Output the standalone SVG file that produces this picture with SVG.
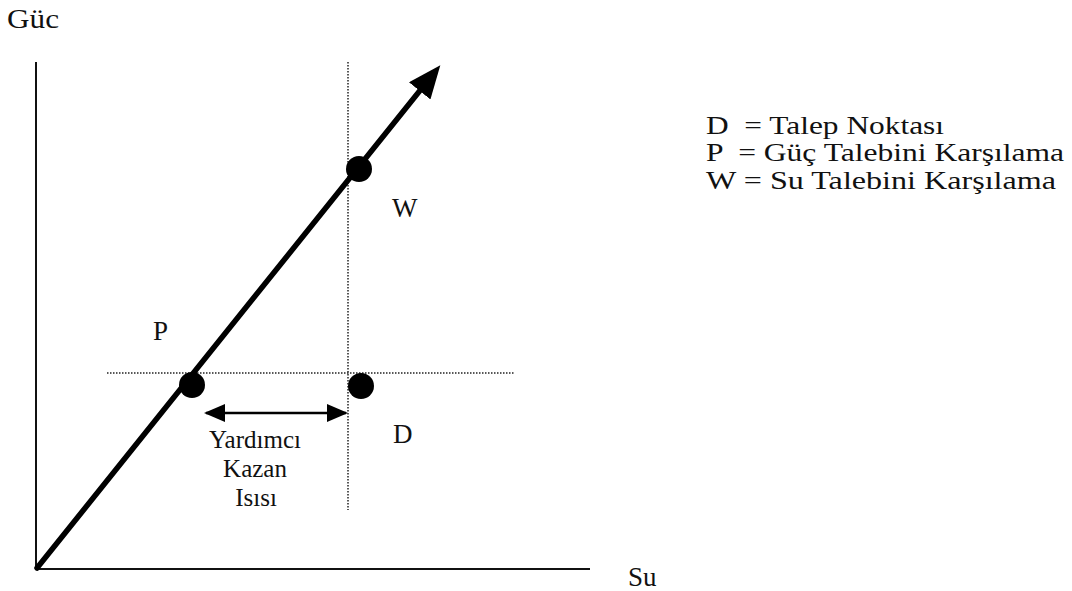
<svg xmlns="http://www.w3.org/2000/svg" width="1072" height="591" viewBox="0 0 1072 591">
<style>
text{font-family:"Liberation Serif","Times New Roman",serif;fill:#111}
.lbl{font-size:27px}
.leg{font-size:25px}
.small{font-size:25px}
.axis{stroke:#111;stroke-width:2;fill:none}
.dot{stroke:#222;stroke-width:1.5;stroke-dasharray:1.5 1.5;fill:none}
.thick{stroke:#000;stroke-width:5.5;fill:none;stroke-linecap:round}
</style>
<defs>
<marker id="ah" markerWidth="6" markerHeight="5" refX="3" refY="2.5" orient="auto" markerUnits="strokeWidth">
<path d="M0,0 L6,2.5 L0,5 Z" fill="#000"/>
</marker>
<marker id="ah2" markerWidth="21" markerHeight="18" refX="19" refY="9" orient="auto-start-reverse" markerUnits="userSpaceOnUse">
<path d="M0,0 L21,9 L0,18 Z" fill="#000"/>
</marker>
</defs>
<g id="connectors">
<path class="axis" d="M36,62 L36,569 L590,569"/>
<line class="dot" x1="348" y1="62" x2="348" y2="510"/>
<line class="dot" x1="107" y1="373" x2="515" y2="373"/>
<line class="thick" x1="37" y1="568" x2="430" y2="78" marker-end="url(#ah)"/>
<line x1="206" y1="413" x2="346" y2="413" stroke="#000" stroke-width="2.5" marker-start="url(#ah2)" marker-end="url(#ah2)"/>
</g>
<g id="node-W"><circle cx="359" cy="169" r="13" fill="#000"/><text class="lbl" x="392" y="217">W</text></g>
<g id="node-P"><circle cx="192" cy="385" r="13" fill="#000"/><text class="lbl" x="153" y="340">P</text></g>
<g id="node-D"><circle cx="361" cy="386" r="13" fill="#000"/><text class="lbl" x="393" y="443">D</text></g>
<g id="label-aux"><text class="small" text-anchor="middle" x="255" y="448">Yardımcı</text><text class="small" text-anchor="middle" x="255" y="477">Kazan</text><text class="small" text-anchor="middle" x="256" y="506">Isısı</text></g>
<g id="axis-labels"><text class="lbl" x="7" y="28" textLength="52" lengthAdjust="spacingAndGlyphs">Güc</text><text class="lbl" x="628" y="586">Su</text></g>
<g id="legend">
<text class="leg" x="706" y="134" xml:space="preserve" textLength="238" lengthAdjust="spacingAndGlyphs">D  = Talep Noktası</text>
<text class="leg" x="706" y="161" xml:space="preserve" textLength="358" lengthAdjust="spacingAndGlyphs">P  = Güç Talebini Karşılama</text>
<text class="leg" x="706" y="189" textLength="350" lengthAdjust="spacingAndGlyphs">W = Su Talebini Karşılama</text>
</g>
</svg>
